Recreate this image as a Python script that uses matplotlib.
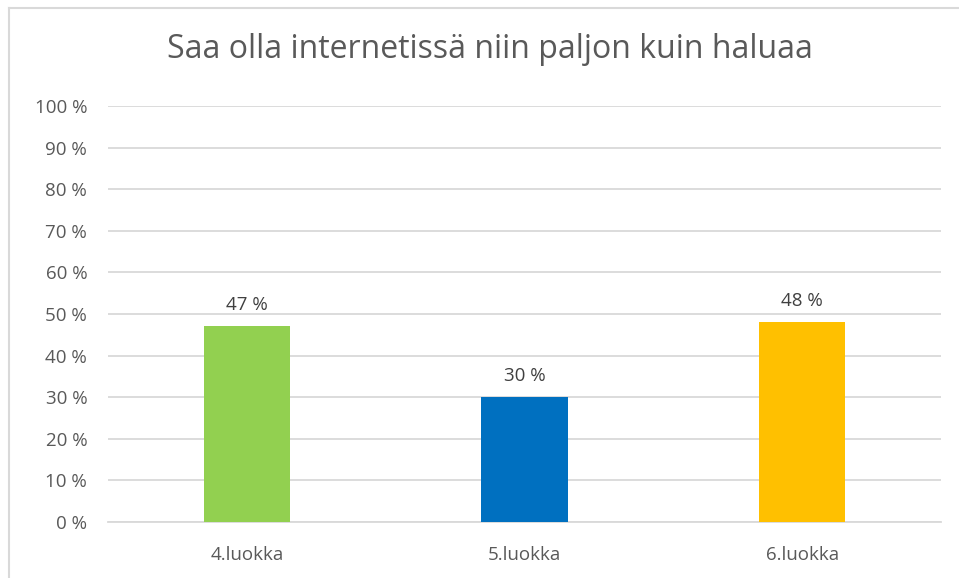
import matplotlib.pyplot as plt
from matplotlib.lines import Line2D
from matplotlib.ticker import FuncFormatter

categories = ["4.luokka", "5.luokka", "6.luokka"]
values = [47, 30, 48]
colors = ["#92D050", "#0070C0", "#FFC000"]
title = "Saa olla internetissä niin paljon kuin haluaa"

plt.rcParams['font.family'] = ['Open Sans', 'DejaVu Sans']

W, H = 959, 578
fig = plt.figure(figsize=(W / 100, H / 100), dpi=100)
ax = fig.add_axes([108 / W, 1 - 522 / H, (941 - 108) / W, (522 - 106) / H])

x = range(len(categories))
bars = ax.bar(x, values, width=0.31, color=colors, zorder=3)
for b, v in zip(bars, values):
    ax.annotate(f"{v} %", (b.get_x() + b.get_width() / 2, v), xytext=(0, 9),
                textcoords="offset points", ha="center", va="bottom",
                fontsize=13.5, color="#404040")

ax.set_xlim(-0.5, 2.5)
ax.set_ylim(0, 100)
ax.set_yticks(range(0, 101, 10))
ax.yaxis.set_major_formatter(FuncFormatter(lambda v, p: f"{int(v)} %"))
ax.set_xticks(list(x))
ax.set_xticklabels(categories)
ax.tick_params(axis="both", length=0, labelsize=13.5, colors="#595959")
ax.tick_params(axis="y", pad=15)
ax.tick_params(axis="x", pad=17)
ax.grid(axis="y", color="#D9D9D9", linewidth=1.3, zorder=0)
for s in ["top", "right", "left"]:
    ax.spines[s].set_visible(False)
ax.spines["bottom"].set_color("#D9D9D9")
ax.spines["bottom"].set_linewidth(1.3)

fig.text(490 / W, 1 - 50 / H, title, ha="center", va="center",
         fontsize=23, color="#595959")

# outer chart border (top and left visible)
fig.add_artist(Line2D([9 / W, 1], [1 - 8 / H, 1 - 8 / H], color="#D9D9D9", lw=1.5))
fig.add_artist(Line2D([9 / W, 9 / W], [0, 1 - 8 / H], color="#D9D9D9", lw=1.5))

fig.savefig("out.png", dpi=100)
